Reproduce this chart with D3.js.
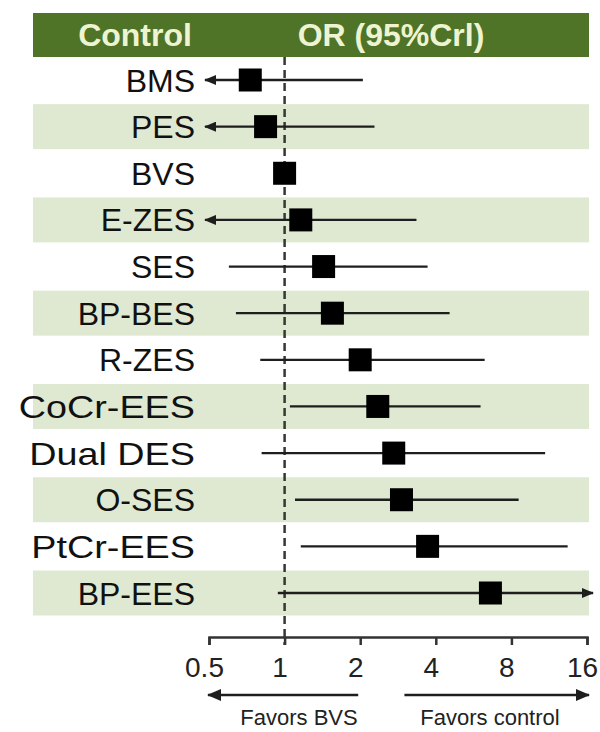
<!DOCTYPE html>
<html>
<head>
<meta charset="utf-8">
<script src="https://cdn.jsdelivr.net/npm/d3@7/dist/d3.min.js"></script>
<style>
  html, body { margin: 0; padding: 0; background: #ffffff; }
  svg { display: block; font-family: "Liberation Sans", Arial, sans-serif; }
</style>
</head>
<body>
<svg id="chart" width="600" height="732"></svg>
<script>
// ---- data ----
const categories = ["BMS", "PES", "BVS", "E-ZES", "SES", "BP-BES", "R-ZES", "CoCr-EES", "Dual DES", "O-SES", "PtCr-EES", "BP-EES"];
const oddsRatio  = [0.73, 0.84, 1.00, 1.16, 1.43, 1.55, 2.00, 2.35, 2.72, 2.92, 3.71, 6.60];
// null = interval extends beyond the plotted scale (drawn as an arrow)
const lowerCrI   = [null, null, 1.00, null, 0.60, 0.64, 0.80, 1.05, 0.81, 1.10, 1.16, 0.94];
const upperCrI   = [2.05, 2.28, 1.00, 3.35, 3.71, 4.54, 6.26, 6.03, 10.9, 8.55, 13.4, null];
const tickValues = [0.5, 1, 2, 4, 8, 16];
const tickLabels = ["0.5", "1", "2", "4", "8", "16"];
const headerLabels = ["Control", "OR (95%Crl)"];
const favorLabels = ["Favors BVS", "Favors control"];

// ---- layout ----
const svg = d3.select("#chart");
const headerColor = "#4f7428";
const headerText = "#eef4d2";
const stripeColor = "#dfe9d2";
const inkColor = "#1e1e1e";

const x = d3.scaleLog().base(2).domain([0.5, 16]).range([209, 587]);
const y = d3.scalePoint().domain(categories).range([80, 593]);
const panelLeft = 33, panelRight = 589;
const axisY = 637;

// defs: arrowheads
const defs = svg.append("defs");
defs.append("marker")
  .attr("id", "ah").attr("viewBox", "0 0 12 10").attr("refX", 11).attr("refY", 5)
  .attr("markerUnits", "userSpaceOnUse").attr("markerWidth", 13).attr("markerHeight", 10)
  .attr("orient", "auto-start-reverse")
  .append("path").attr("d", "M0,0L12,5L0,10Z").attr("fill", inkColor);
defs.append("marker")
  .attr("id", "ahBig").attr("viewBox", "0 0 14 12").attr("refX", 13).attr("refY", 6)
  .attr("markerUnits", "userSpaceOnUse").attr("markerWidth", 15).attr("markerHeight", 12)
  .attr("orient", "auto-start-reverse")
  .append("path").attr("d", "M0,0L14,6L0,12Z").attr("fill", inkColor);

// header
svg.append("rect").attr("x", panelLeft).attr("y", 13).attr("width", panelRight - panelLeft).attr("height", 44)
  .attr("fill", headerColor);
svg.append("text").attr("x", 135).attr("y", 46).attr("text-anchor", "middle")
  .attr("font-size", 32).attr("font-weight", "bold").attr("fill", headerText).text(headerLabels[0]);
svg.append("text").attr("x", 391).attr("y", 46).attr("text-anchor", "middle")
  .attr("font-size", 32).attr("font-weight", "bold").attr("fill", headerText).text(headerLabels[1]);

// stripes
svg.append("g").selectAll("rect")
  .data(categories.filter((d, i) => i % 2 === 1))
  .join("rect")
  .attr("x", panelLeft).attr("width", panelRight - panelLeft)
  .attr("y", d => y(d) - 22.5).attr("height", 45)
  .attr("fill", stripeColor);

// reference line at OR = 1
svg.append("line")
  .attr("x1", x(1)).attr("x2", x(1)).attr("y1", 57).attr("y2", axisY + 8)
  .attr("stroke", "#333833").attr("stroke-width", 2.5).attr("stroke-dasharray", "8,5");

// row labels (lowercase glyphs in the original are set wider)
svg.append("g").selectAll("text")
  .data(categories).join("text")
  .attr("x", 195).attr("y", d => y(d)).attr("dy", "0.36em")
  .attr("text-anchor", "end").attr("font-size", 32).attr("fill", "#111").text(d => d)
  .each(function(d) {
    if (/[a-z]/.test(d)) {
      const w = this.getComputedTextLength();
      d3.select(this).attr("textLength", w * 1.18).attr("lengthAdjust", "spacingAndGlyphs");
    }
  });

// CI lines
const [xmin, xmax] = x.range();
const rows = categories.map((c, i) => ({c, or: oddsRatio[i], lo: lowerCrI[i], hi: upperCrI[i]}));
svg.append("g").selectAll("line")
  .data(rows.filter(d => !(d.lo === d.hi && d.lo !== null)))
  .join("line")
  .attr("x1", d => d.lo === null ? xmin - 4 : x(d.lo))
  .attr("x2", d => d.hi === null ? xmax + 6 : x(d.hi))
  .attr("y1", d => y(d.c)).attr("y2", d => y(d.c))
  .attr("stroke", inkColor).attr("stroke-width", 2.3)
  .attr("marker-start", d => d.lo === null ? "url(#ah)" : null)
  .attr("marker-end", d => d.hi === null ? "url(#ah)" : null);

// point estimates
const sq = 23;
svg.append("g").selectAll("rect")
  .data(rows).join("rect")
  .attr("x", d => x(d.or) - sq / 2).attr("y", d => y(d.c) - sq / 2)
  .attr("width", sq).attr("height", sq).attr("fill", "#000");

// axis
const axis = d3.axisBottom(x).tickValues(tickValues)
  .tickFormat((d, i) => tickLabels[i]).tickSize(8).tickSizeOuter(8);
const gAxis = svg.append("g").attr("transform", `translate(0,${axisY})`).call(axis);
gAxis.select(".domain").attr("stroke", "#333").attr("stroke-width", 2.5);
gAxis.selectAll(".tick line").attr("stroke", "#333").attr("stroke-width", 2.5);
gAxis.selectAll(".tick text").attr("font-size", 28).attr("fill", "#222")
  .attr("font-family", "Liberation Sans, Arial, sans-serif")
  .attr("y", 40).attr("dy", 0).attr("x", -5);

// favors arrows
const favY = 695;
svg.append("line").attr("x1", x(2) - 2).attr("x2", x(0.5) - 1).attr("y1", favY).attr("y2", favY)
  .attr("stroke", inkColor).attr("stroke-width", 2.5).attr("marker-end", "url(#ahBig)");
svg.append("line").attr("x1", x(3)).attr("x2", x(16) + 2).attr("y1", favY).attr("y2", favY)
  .attr("stroke", inkColor).attr("stroke-width", 2.5).attr("marker-end", "url(#ahBig)");
svg.append("text").attr("x", 299).attr("y", 725).attr("text-anchor", "middle")
  .attr("font-size", 22).attr("fill", "#222").text(favorLabels[0]);
svg.append("text").attr("x", 490).attr("y", 725).attr("text-anchor", "middle")
  .attr("font-size", 22).attr("fill", "#222").text(favorLabels[1]);
</script>
</body>
</html>
